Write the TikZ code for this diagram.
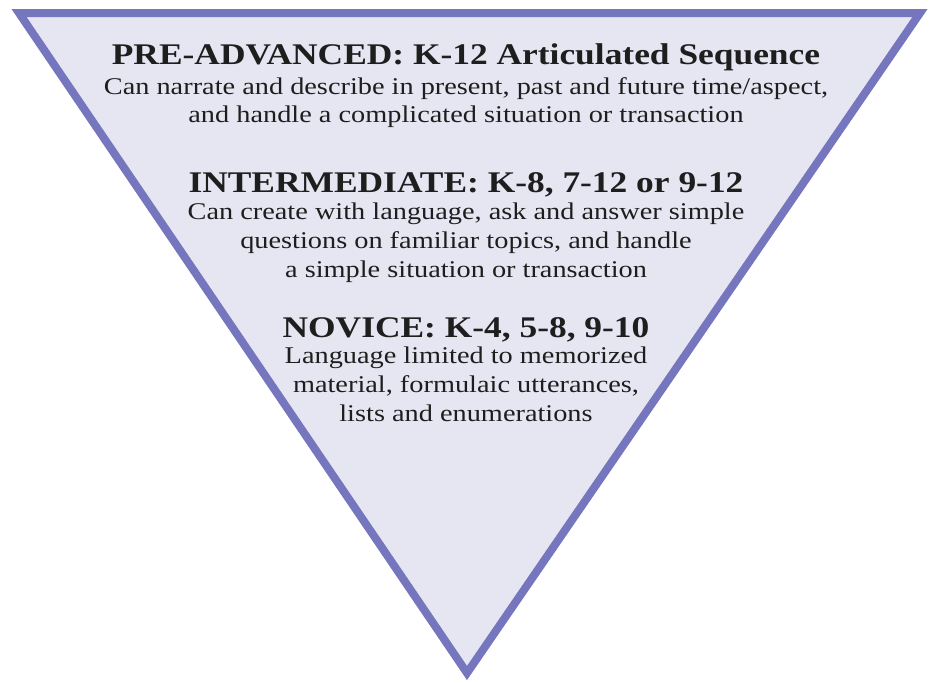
\documentclass[tikz,border=0pt]{standalone}
\usepackage{fontspec}
\setmainfont[FakeStretch=1.18]{Liberation Serif}

\definecolor{rimblue}{RGB}{118,118,190}
\definecolor{paleblue}{RGB}{230,230,242}
\definecolor{inkgray}{RGB}{30,30,30}

\tikzset{
  level title/.style={anchor=base, text=inkgray, inner sep=0pt,
    font=\fontsize{30}{34}\selectfont\bfseries},
  level text/.style={anchor=base, text=inkgray, inner sep=0pt, align=center,
    font=\fontsize{24}{28.8}\selectfont}
}

\begin{document}
\begin{tikzpicture}[x=1pt,y=-1pt]
  \useasboundingbox (0,0) rectangle (930,683);

  % Inverted triangle
  \draw[rimblue, fill=paleblue, line width=8pt, line join=miter]
    (19,13) -- (920,13) -- (467,673) -- cycle;

  % Pre-advanced level
  \node[level title] (advtitle) at (466,64) {PRE-ADVANCED: K-12 Articulated Sequence};
  \node[level text, anchor=north] (advtext) at (466,77)
    {Can narrate and describe in present, past and future time/aspect,\\
     and handle a complicated situation or transaction};

  % Intermediate level
  \node[level title] (midtitle) at (466,192) {INTERMEDIATE: K-8, 7-12 or 9-12};
  \node[level text, anchor=north] (midtext) at (466,203)
    {Can create with language, ask and answer simple\\
     questions on familiar topics, and handle\\
     a simple situation or transaction};

  % Novice level
  \node[level title] (novtitle) at (466,337) {NOVICE: K-4, 5-8, 9-10};
  \node[level text, anchor=north] (novtext) at (466,347)
    {Language limited to memorized\\
     material, formulaic utterances,\\
     lists and enumerations};

\end{tikzpicture}
\end{document}
